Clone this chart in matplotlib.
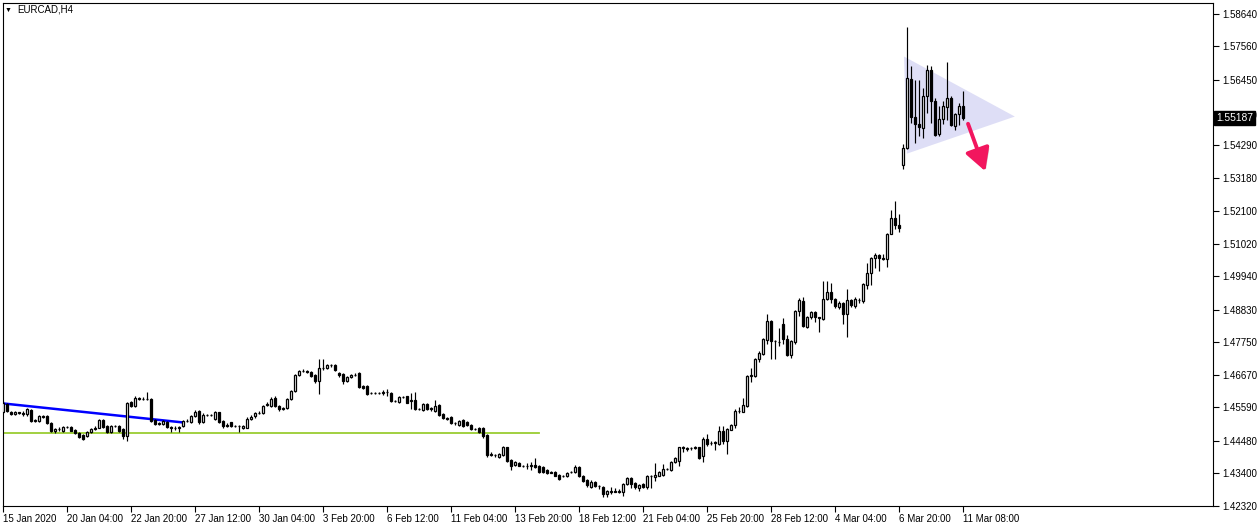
import matplotlib.pyplot as plt
import matplotlib.patheffects as pe
import numpy as np

# EURCAD H4 candles (bar 0 = 15 Jan 2020)
opens = [
    1.4542, 1.4570, 1.4545, 1.4537, 1.4543, 1.4541, 1.4537, 1.4550, 1.4515, 1.4515,
    1.4531, 1.4530, 1.4507, 1.4480, 1.4487, 1.4479, 1.4494, 1.4495, 1.4484, 1.4475,
    1.4466, 1.4465, 1.4478, 1.4487, 1.4492, 1.4518, 1.4496, 1.4476, 1.4497, 1.4498,
    1.4486, 1.4465, 1.4576, 1.4564, 1.4589, 1.4588, 1.4587, 1.4588, 1.4518, 1.4505,
    1.4503, 1.4512, 1.4494, 1.4491, 1.4490, 1.4498, 1.4514, 1.4511, 1.4529, 1.4547,
    1.4509, 1.4534, 1.4533, 1.4522, 1.4542, 1.4514, 1.4500, 1.4509, 1.4498, 1.4497,
    1.4489, 1.4492, 1.4522, 1.4529, 1.4540, 1.4540, 1.4566, 1.4564, 1.4591, 1.4564,
    1.4555, 1.4556, 1.4586, 1.4614, 1.4666, 1.4680, 1.4681, 1.4677, 1.4666, 1.4647,
    1.4690, 1.4691, 1.4699, 1.4699, 1.4674, 1.4669, 1.4647, 1.4658, 1.4666, 1.4672,
    1.4630, 1.4630, 1.4606, 1.4605, 1.4606, 1.4607, 1.4610, 1.4608, 1.4581, 1.4578,
    1.4592, 1.4595, 1.4579, 1.4584, 1.4553, 1.4551, 1.4570, 1.4556, 1.4548, 1.4566,
    1.4536, 1.4523, 1.4526, 1.4507, 1.4501, 1.4518, 1.4512, 1.4501, 1.4487, 1.4490,
    1.4490, 1.4466, 1.4404, 1.4401, 1.4393, 1.4401, 1.4426, 1.4384, 1.4369, 1.4375,
    1.4365, 1.4366, 1.4365, 1.4368, 1.4364, 1.4361, 1.4352, 1.4344, 1.4346, 1.4335,
    1.4331, 1.4331, 1.4344, 1.4344, 1.4361, 1.4333, 1.4319, 1.4296, 1.4311, 1.4298,
    1.4294, 1.4272, 1.4280, 1.4281, 1.4280, 1.4280, 1.4305, 1.4324, 1.4307, 1.4291,
    1.4305, 1.4294, 1.4331, 1.4327, 1.4333, 1.4335, 1.4353, 1.4350, 1.4377, 1.4380,
    1.4426, 1.4423, 1.4423, 1.4425, 1.4426, 1.4398, 1.4455, 1.4440, 1.4442, 1.4438,
    1.4482, 1.4446, 1.4485, 1.4500, 1.4547, 1.4545, 1.4563, 1.4662, 1.4664, 1.4719,
    1.4735, 1.4783, 1.4845, 1.4779, 1.4776, 1.4834, 1.4787, 1.4732, 1.4774, 1.4877,
    1.4910, 1.4826, 1.4857, 1.4876, 1.4857, 1.4853, 1.4917, 1.4942, 1.4917, 1.4893,
    1.4904, 1.4867, 1.4914, 1.4896, 1.4916, 1.4912, 1.4964, 1.5003, 1.5054, 1.5065,
    1.5053, 1.5052, 1.5135, 1.5187, 1.5165, 1.5361, 1.5418, 1.5647, 1.5520, 1.5499,
    1.5485, 1.5590, 1.5678, 1.5576, 1.5466, 1.5514, 1.5556, 1.5584, 1.5492, 1.5532,
    1.5559,
]
highs = [
    1.4580, 1.4574, 1.4547, 1.4546, 1.4545, 1.4547, 1.4556, 1.4553, 1.4522, 1.4535,
    1.4534, 1.4533, 1.4510, 1.4492, 1.4493, 1.4498, 1.4498, 1.4497, 1.4487, 1.4478,
    1.4470, 1.4481, 1.4491, 1.4496, 1.4521, 1.4522, 1.4499, 1.4501, 1.4502, 1.4502,
    1.4490, 1.4578, 1.4580, 1.4596, 1.4594, 1.4593, 1.4610, 1.4590, 1.4521, 1.4511,
    1.4517, 1.4515, 1.4498, 1.4496, 1.4498, 1.4518, 1.4520, 1.4533, 1.4550, 1.4551,
    1.4539, 1.4537, 1.4538, 1.4548, 1.4545, 1.4517, 1.4506, 1.4512, 1.4501, 1.4500,
    1.4502, 1.4526, 1.4533, 1.4544, 1.4546, 1.4568, 1.4578, 1.4594, 1.4595, 1.4566,
    1.4560, 1.4590, 1.4617, 1.4670, 1.4683, 1.4685, 1.4684, 1.4680, 1.4669, 1.4718,
    1.4718, 1.4703, 1.4704, 1.4704, 1.4677, 1.4672, 1.4662, 1.4669, 1.4672, 1.4676,
    1.4633, 1.4633, 1.4609, 1.4609, 1.4610, 1.4617, 1.4619, 1.4611, 1.4585, 1.4595,
    1.4597, 1.4598, 1.4608, 1.4611, 1.4558, 1.4573, 1.4573, 1.4560, 1.4584, 1.4569,
    1.4539, 1.4527, 1.4529, 1.4511, 1.4518, 1.4521, 1.4515, 1.4504, 1.4491, 1.4493,
    1.4493, 1.4470, 1.4410, 1.4405, 1.4407, 1.4430, 1.4429, 1.4387, 1.4380, 1.4378,
    1.4368, 1.4374, 1.4377, 1.4390, 1.4367, 1.4364, 1.4355, 1.4347, 1.4349, 1.4338,
    1.4336, 1.4346, 1.4349, 1.4368, 1.4364, 1.4336, 1.4322, 1.4317, 1.4314, 1.4302,
    1.4297, 1.4286, 1.4294, 1.4291, 1.4289, 1.4308, 1.4327, 1.4327, 1.4310, 1.4306,
    1.4308, 1.4334, 1.4335, 1.4375, 1.4347, 1.4371, 1.4358, 1.4380, 1.4393, 1.4429,
    1.4430, 1.4427, 1.4428, 1.4432, 1.4429, 1.4461, 1.4471, 1.4449, 1.4447, 1.4497,
    1.4497, 1.4491, 1.4505, 1.4552, 1.4559, 1.4590, 1.4666, 1.4688, 1.4722, 1.4746,
    1.4789, 1.4867, 1.4849, 1.4782, 1.4823, 1.4856, 1.4798, 1.4782, 1.4882, 1.4923,
    1.4925, 1.4862, 1.4877, 1.4879, 1.4860, 1.4978, 1.4978, 1.4970, 1.4920, 1.4910,
    1.4907, 1.4951, 1.4917, 1.4925, 1.4922, 1.4970, 1.5036, 1.5056, 1.5072, 1.5069,
    1.5066, 1.5138, 1.5214, 1.5244, 1.5201, 1.5433, 1.5821, 1.5691, 1.5645, 1.5645,
    1.5617, 1.5694, 1.5689, 1.5584, 1.5559, 1.5573, 1.5705, 1.5590, 1.5535, 1.5567,
    1.5609,
]
lows = [
    1.4539, 1.4545, 1.4534, 1.4535, 1.4537, 1.4531, 1.4530, 1.4509, 1.4512, 1.4511,
    1.4524, 1.4504, 1.4476, 1.4474, 1.4481, 1.4476, 1.4489, 1.4480, 1.4470, 1.4456,
    1.4452, 1.4462, 1.4475, 1.4484, 1.4489, 1.4490, 1.4473, 1.4473, 1.4494, 1.4478,
    1.4454, 1.4448, 1.4560, 1.4561, 1.4584, 1.4583, 1.4583, 1.4511, 1.4500, 1.4501,
    1.4500, 1.4490, 1.4476, 1.4484, 1.4478, 1.4495, 1.4510, 1.4508, 1.4526, 1.4505,
    1.4506, 1.4530, 1.4530, 1.4518, 1.4508, 1.4492, 1.4494, 1.4495, 1.4494, 1.4476,
    1.4486, 1.4489, 1.4518, 1.4525, 1.4536, 1.4537, 1.4562, 1.4560, 1.4560, 1.4548,
    1.4550, 1.4553, 1.4583, 1.4610, 1.4662, 1.4676, 1.4673, 1.4661, 1.4641, 1.4603,
    1.4683, 1.4687, 1.4694, 1.4680, 1.4661, 1.4636, 1.4644, 1.4655, 1.4663, 1.4622,
    1.4619, 1.4600, 1.4602, 1.4602, 1.4602, 1.4600, 1.4597, 1.4578, 1.4577, 1.4575,
    1.4589, 1.4572, 1.4553, 1.4550, 1.4550, 1.4548, 1.4550, 1.4548, 1.4545, 1.4531,
    1.4520, 1.4518, 1.4504, 1.4502, 1.4498, 1.4495, 1.4497, 1.4484, 1.4484, 1.4473,
    1.4457, 1.4393, 1.4397, 1.4396, 1.4390, 1.4398, 1.4379, 1.4350, 1.4366, 1.4363,
    1.4361, 1.4355, 1.4350, 1.4358, 1.4343, 1.4343, 1.4339, 1.4340, 1.4330, 1.4319,
    1.4327, 1.4328, 1.4340, 1.4341, 1.4327, 1.4313, 1.4296, 1.4293, 1.4295, 1.4287,
    1.4261, 1.4261, 1.4272, 1.4277, 1.4276, 1.4265, 1.4302, 1.4291, 1.4289, 1.4283,
    1.4291, 1.4287, 1.4291, 1.4316, 1.4330, 1.4332, 1.4350, 1.4347, 1.4374, 1.4365,
    1.4410, 1.4415, 1.4418, 1.4420, 1.4387, 1.4378, 1.4432, 1.4433, 1.4419, 1.4434,
    1.4438, 1.4405, 1.4484, 1.4489, 1.4540, 1.4542, 1.4559, 1.4644, 1.4661, 1.4710,
    1.4732, 1.4768, 1.4719, 1.4719, 1.4763, 1.4768, 1.4729, 1.4724, 1.4770, 1.4863,
    1.4827, 1.4823, 1.4853, 1.4841, 1.4809, 1.4850, 1.4914, 1.4906, 1.4890, 1.4886,
    1.4835, 1.4791, 1.4893, 1.4890, 1.4906, 1.4906, 1.4951, 1.4964, 1.5022, 1.5011,
    1.5048, 1.5025, 1.5132, 1.5149, 1.5140, 1.5350, 1.5414, 1.5501, 1.5435, 1.5459,
    1.5452, 1.5534, 1.5501, 1.5457, 1.5457, 1.5499, 1.5512, 1.5492, 1.5479, 1.5496,
    1.5510,
]
closes = [
    1.4575, 1.4548, 1.4537, 1.4543, 1.4540, 1.4536, 1.4553, 1.4515, 1.4518, 1.4531,
    1.4528, 1.4507, 1.4482, 1.4488, 1.4486, 1.4495, 1.4493, 1.4482, 1.4474, 1.4460,
    1.4455, 1.4478, 1.4487, 1.4492, 1.4518, 1.4493, 1.4476, 1.4497, 1.4498, 1.4482,
    1.4465, 1.4575, 1.4564, 1.4591, 1.4588, 1.4587, 1.4586, 1.4515, 1.4503, 1.4508,
    1.4514, 1.4494, 1.4492, 1.4490, 1.4494, 1.4514, 1.4515, 1.4529, 1.4544, 1.4509,
    1.4535, 1.4533, 1.4534, 1.4542, 1.4511, 1.4496, 1.4498, 1.4498, 1.4497, 1.4496,
    1.4498, 1.4522, 1.4528, 1.4540, 1.4541, 1.4564, 1.4569, 1.4588, 1.4564, 1.4553,
    1.4557, 1.4586, 1.4614, 1.4666, 1.4680, 1.4681, 1.4677, 1.4664, 1.4647, 1.4690,
    1.4691, 1.4699, 1.4698, 1.4683, 1.4666, 1.4647, 1.4658, 1.4666, 1.4667, 1.4625,
    1.4622, 1.4603, 1.4605, 1.4606, 1.4605, 1.4609, 1.4611, 1.4581, 1.4580, 1.4592,
    1.4593, 1.4575, 1.4584, 1.4553, 1.4554, 1.4570, 1.4553, 1.4555, 1.4562, 1.4534,
    1.4523, 1.4522, 1.4507, 1.4506, 1.4515, 1.4498, 1.4500, 1.4487, 1.4488, 1.4476,
    1.4463, 1.4402, 1.4401, 1.4400, 1.4404, 1.4426, 1.4382, 1.4366, 1.4377, 1.4366,
    1.4364, 1.4365, 1.4367, 1.4361, 1.4346, 1.4346, 1.4342, 1.4343, 1.4333, 1.4322,
    1.4332, 1.4342, 1.4345, 1.4361, 1.4331, 1.4316, 1.4300, 1.4313, 1.4298, 1.4297,
    1.4272, 1.4283, 1.4281, 1.4280, 1.4281, 1.4305, 1.4324, 1.4305, 1.4294, 1.4303,
    1.4294, 1.4331, 1.4330, 1.4335, 1.4344, 1.4353, 1.4354, 1.4377, 1.4390, 1.4426,
    1.4425, 1.4422, 1.4424, 1.4426, 1.4390, 1.4455, 1.4438, 1.4442, 1.4443, 1.4482,
    1.4446, 1.4488, 1.4501, 1.4547, 1.4548, 1.4567, 1.4662, 1.4666, 1.4719, 1.4739,
    1.4785, 1.4845, 1.4779, 1.4778, 1.4774, 1.4787, 1.4732, 1.4779, 1.4878, 1.4916,
    1.4830, 1.4859, 1.4874, 1.4857, 1.4855, 1.4917, 1.4942, 1.4919, 1.4895, 1.4904,
    1.4868, 1.4914, 1.4898, 1.4918, 1.4915, 1.4967, 1.5006, 1.5053, 1.5063, 1.5054,
    1.5052, 1.5135, 1.5187, 1.5162, 1.5154, 1.5418, 1.5650, 1.5520, 1.5499, 1.5490,
    1.5592, 1.5678, 1.5573, 1.5463, 1.5514, 1.5559, 1.5584, 1.5496, 1.5532, 1.5559,
    1.55187,
]

date_labels = ['15 Jan 2020', '20 Jan 04:00', '22 Jan 20:00', '27 Jan 12:00',
               '30 Jan 04:00', '3 Feb 20:00', '6 Feb 12:00', '11 Feb 04:00',
               '13 Feb 20:00', '18 Feb 12:00', '21 Feb 04:00', '25 Feb 20:00',
               '28 Feb 12:00', '4 Mar 04:00', '6 Mar 20:00', '11 Mar 08:00']
label_step = 16

price_ticks = [1.58640, 1.57560, 1.56450, 1.55270, 1.54290, 1.53180, 1.52100,
               1.51020, 1.49940, 1.48830, 1.47750, 1.46670, 1.45590, 1.44480,
               1.43400, 1.42320]

# drawn objects on the chart
trend_x = [0, 45]
trend_y = [1.4572, 1.4509]
level_price = 1.4473
level_end = 134
tri_x = [225.3, 226.0, 253.0]
tri_y = [1.5722, 1.5400, 1.5523]
arrow_from = (241.3, 1.5499)
arrow_to = (245.6, 1.5342)
last_price = 1.55187

plt.rcParams['font.family'] = ['Liberation Sans', 'DejaVu Sans']

W, H = 1259, 532
fig = plt.figure(figsize=(W / 100, H / 100), dpi=100)
ax = fig.add_axes([3 / W, 26 / H, 1210 / W, 503 / H])

o = np.array(opens)
h = np.array(highs)
l = np.array(lows)
c = np.array(closes)
x = np.arange(len(o))
up = c >= o

ax.fill(tri_x, tri_y, color='#dedef6', lw=0, zorder=0.5)
ax.plot([0, level_end], [level_price, level_price], color='#9acd32', lw=1.3, zorder=1)
ax.plot(trend_x, trend_y, color='#0000ff', lw=1.8, zorder=1)

ax.vlines(x, l, h, color='black', lw=0.85, zorder=2)
ax.bar(x[up], (c - o)[up], bottom=o[up], width=0.55, facecolor='white',
       edgecolor='black', lw=0.9, zorder=3)
ax.bar(x[~up], (o - c)[~up], bottom=c[~up], width=0.55, facecolor='black',
       edgecolor='black', lw=0.9, zorder=3)

ax.annotate('', xy=arrow_to, xytext=arrow_from,
            arrowprops=dict(arrowstyle='-|>,head_length=0.9,head_width=0.5',
                            color='#f2165e', lw=2.8, shrinkA=0, shrinkB=0,
                            mutation_scale=15,
                            path_effects=[pe.SimplePatchShadow(offset=(1.5, -1.5), alpha=0.25),
                                          pe.Normal()]),
            zorder=4)

ax.set_xlim(0.05, 302.55)
ax.set_ylim(1.4232, 1.58994)

ax.yaxis.tick_right()
ax.set_yticks(price_ticks)
ax.set_yticklabels([f'{p:.5f}' for p in price_ticks])
ax.set_xticks(np.arange(0, len(o), label_step))
ax.set_xticklabels(date_labels, ha='left')
ax.tick_params(axis='both', direction='out', length=4, width=0.8,
               labelsize=7, colors='black')
ax.tick_params(axis='y', pad=3)
ax.tick_params(axis='x', pad=2)
for s in ax.spines.values():
    s.set_linewidth(0.8)
    s.set_color('black')

ax.text(1 + 3 / 1210, last_price, f'{last_price:.5f}', transform=ax.get_yaxis_transform(),
        ha='left', va='center', fontsize=7.4, color='white',
        bbox=dict(boxstyle='square,pad=0.2', fc='black', ec='black'), zorder=5,
        clip_on=False)

fig.text(8 / W, 1 - 10 / H, '▼', fontsize=5, ha='center', va='center', color='black')
fig.text(17 / W, 1 - 10 / H, 'EURCAD,H4', fontsize=7, ha='left', va='center', color='black')

fig.savefig('out.png', dpi=100, facecolor='white')
